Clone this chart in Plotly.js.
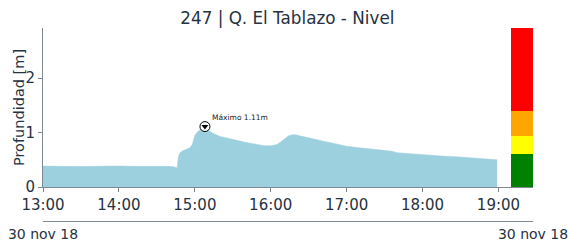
<!DOCTYPE html>
<html>
<head>
<meta charset="utf-8">
<script src="https://cdn.plot.ly/plotly-3.0.1.min.js"></script>
<style>html,body{margin:0;padding:0;background:#fff}#chart{width:569px;height:242px}</style>
</head>
<body>
<div id="chart"></div>
<script>
// ---- data ----
const day = '2018-11-30 ';
const times = ['13:00','13:10','13:20','13:30','13:40','13:50','14:00','14:10','14:20','14:30','14:40','14:44','14:46',
  '14:47','14:48','14:50','14:53','14:56','14:58','15:00','15:02','15:05','15:08','15:10','15:12','15:15','15:20','15:25',
  '15:30','15:36','15:40','15:45','15:51','15:55','16:00','16:05','16:08','16:11','16:14','16:17','16:20','16:23','16:30',
  '16:40','16:50','17:00','17:10','17:20','17:30','17:35','17:40','17:50','18:00','18:15','18:30','18:45','18:59'];
const depth = [0.385,0.38,0.38,0.375,0.38,0.385,0.385,0.38,0.385,0.38,0.38,0.37,0.35,
  0.55,0.62,0.66,0.69,0.72,0.78,0.95,1.01,1.07,1.11,1.08,1.02,0.98,0.93,0.90,
  0.87,0.84,0.82,0.80,0.77,0.76,0.76,0.78,0.83,0.89,0.94,0.96,0.96,0.94,0.90,
  0.85,0.80,0.75,0.72,0.70,0.68,0.66,0.63,0.61,0.59,0.57,0.55,0.53,0.50];
const maxTime = '15:08';
const maxValue = 1.11;
const maxLabel = 'Máximo 1.11m';
// alert thresholds (upper limits, m)
const levelNames = ['verde','amarillo','naranja','rojo'];
const levelTops = [0.6, 0.93, 1.39, 2.92];
const levelColors = ['#008000','#ffff00','#ffa500','#ff0000'];
const levelBarTime = '19:18:30';
const xRangeTimes = ['13:00','19:27:18'];
const dateLabel = '30 nov 18';
const title = '247 | Q. El Tablazo - Nivel';
const yTitle = 'Profundidad [m]';

// ---- build ----
const txt = '#26323f';
const axc = '#7d8891';
const font = 'DejaVu Sans, sans-serif';
const x = times.map(t => day + t);
const traces = [{
  type: 'scatter', mode: 'lines', x: x, y: depth, fill: 'tozeroy',
  fillcolor: '#9dd0de', line: {color: '#9dd0de', width: 0.5},
  hoverinfo: 'skip', showlegend: false
}];
let prev = 0;
levelTops.forEach((top, i) => {
  traces.push({type: 'bar', x: [day + levelBarTime], y: [top - prev], base: [prev],
    width: [1055000], marker: {color: levelColors[i], line: {width: 0}}, name: levelNames[i],
    hoverinfo: 'skip', showlegend: false});
  prev = top;
});
traces.push({type: 'scatter', mode: 'markers', x: [day + maxTime], y: [maxValue],
  marker: {symbol: 'circle', size: 10, color: '#ffffff', line: {color: '#000', width: 1}},
  hoverinfo: 'skip', showlegend: false});
traces.push({type: 'scatter', mode: 'markers', x: [day + maxTime], y: [maxValue],
  marker: {symbol: 'triangle-down', size: 6, color: '#000'}, hoverinfo: 'skip', showlegend: false});
traces.push({type: 'scatter', mode: 'markers', x: [day + xRangeTimes[0]], y: [0], xaxis: 'x2',
  marker: {opacity: 0}, hoverinfo: 'skip', showlegend: false});

const rng = xRangeTimes.map(t => day + t);
const layout = {
  width: 569, height: 242,
  margin: {l: 42.7, r: 35.7, t: 28, b: 21},
  paper_bgcolor: '#fff', plot_bgcolor: '#fff',
  font: {family: font, color: txt, size: 14},
  title: {text: title, font: {family: font, size: 16.8, color: txt}, x: 0.505, xanchor: 'center', y: 0.925, yanchor: 'middle'},
  showlegend: false,
  barmode: 'overlay', bargap: 0,
  xaxis: {type: 'date', range: rng, anchor: 'y', tickformat: '%H:%M', dtick: 3600000,
    tick0: day + '13:00', ticks: 'outside', ticklen: 4, tickcolor: axc, showline: true, linecolor: axc,
    linewidth: 1, showgrid: false, zeroline: false, tickfont: {size: 15, color: txt}},
  xaxis2: {type: 'date', range: rng, overlaying: 'x', anchor: 'free', position: 0, side: 'bottom',
    tickmode: 'array', tickvals: rng, ticktext: [dateLabel, dateLabel], ticks: '', showline: true,
    ticklabeloverflow: 'allow',
    linecolor: axc, linewidth: 1, showgrid: false, zeroline: false, tickfont: {size: 14, color: txt}},
  yaxis: {range: [0, 2.92], domain: [0.176, 1], dtick: 1, ticks: 'outside', ticklen: 4, tickcolor: axc,
    showline: true, linecolor: axc, linewidth: 1, showgrid: false, zeroline: false,
    tickfont: {size: 15, color: txt}},
  annotations: [
    {x: day + maxTime, y: maxValue, xref: 'x', yref: 'y', text: maxLabel, showarrow: false,
     xanchor: 'left', yanchor: 'bottom', xshift: 5, yshift: 3, font: {size: 7.5, color: '#222', family: font}},
    {x: -0.05, y: 0.588, xref: 'paper', yref: 'paper', text: yTitle, showarrow: false, textangle: -90,
     xanchor: 'center', yanchor: 'middle', font: {size: 14.5, color: txt, family: font}}
  ]
};
Plotly.newPlot('chart', traces, layout, {staticPlot: true, displayModeBar: false});
</script>
</body>
</html>
